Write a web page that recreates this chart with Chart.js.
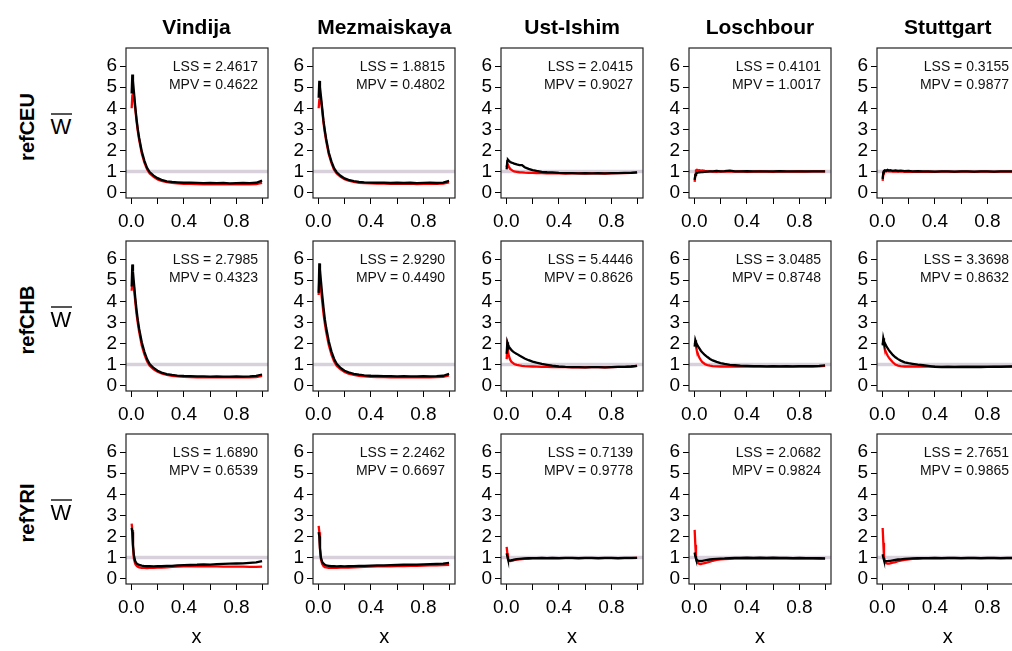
<!DOCTYPE html>
<html>
<head>
<meta charset="utf-8">
<script src="https://cdn.jsdelivr.net/npm/chart.js@4.4.1/dist/chart.umd.min.js"></script>
<style>
  body { margin: 0; width: 1012px; height: 651px; overflow: hidden; background: #fff; position: relative;
         font-family: "Liberation Sans", Arial, sans-serif; color: #000; }
  canvas { position: absolute; }
  .lbl { position: absolute; line-height: 1; white-space: nowrap; transform: translate(-50%, -50%); }
  .col { font-size: 21px; font-weight: bold; }
  .row { font-size: 20px; font-weight: bold; transform: translate(-50%, -50%) rotate(-90deg); }
  .wlab { font-size: 22px; }
  .bar { position: absolute; height: 1.5px; background: #555; }
  .xlab { font-size: 20px; }
</style>
</head>
<body>
<script>
// column / row names
const samples = ["Vindija", "Mezmaiskaya", "Ust-Ishim", "Loschbour", "Stuttgart"];
const refs = ["refCEU", "refCHB", "refYRI"];

// shared x positions of the curves (denser near 0)
const xGrid = [0.003, 0.008, 0.013, 0.02, 0.03, 0.04, 0.05, 0.06, 0.08, 0.10,
               0.12, 0.14, 0.17, 0.20, 0.23, 0.27, 0.31, 0.35, 0.40, 0.45,
               0.50, 0.55, 0.60, 0.65, 0.70, 0.75, 0.80, 0.85, 0.90, 0.95, 0.995];
const xTicks = [0, 0.2, 0.4, 0.6, 0.8, 1.0];
const xTickLabels = ["0.0", "", "0.4", "", "0.8", ""];
const yTicks = [0, 1, 2, 3, 4, 5, 6];

// refCEU
const blackCEU = [
  [4.7, 5.6, 5.3, 4.8, 4.1, 3.5, 3.0, 2.6, 1.95, 1.5, 1.17, 0.97, 0.8, 0.68, 0.6, 0.53, 0.5, 0.48, 0.46, 0.46, 0.45, 0.44, 0.45, 0.44, 0.45, 0.43, 0.44, 0.45, 0.44, 0.46, 0.56],
  [4.5, 5.3, 5.0, 4.6, 4.0, 3.4, 2.95, 2.55, 1.9, 1.48, 1.15, 0.96, 0.79, 0.67, 0.6, 0.54, 0.5, 0.48, 0.47, 0.46, 0.46, 0.45, 0.46, 0.45, 0.46, 0.44, 0.45, 0.46, 0.45, 0.47, 0.55],
  [1.1, 1.5, 1.55, 1.5, 1.45, 1.42, 1.4, 1.37, 1.33, 1.3, 1.3, 1.2, 1.12, 1.06, 1.02, 0.98, 0.96, 0.95, 0.93, 0.92, 0.92, 0.91, 0.92, 0.91, 0.92, 0.91, 0.92, 0.92, 0.93, 0.93, 0.95],
  [0.6, 0.82, 0.88, 0.92, 0.95, 0.96, 0.97, 0.97, 0.98, 0.99, 1.0, 1.0, 1.02, 1.0, 1.01, 1.04, 1.0, 1.0, 1.01, 1.0, 1.0, 1.0, 1.0, 1.01, 1.0, 1.0, 1.0, 1.0, 1.0, 1.0, 1.0],
  [0.65, 0.95, 1.02, 1.05, 1.03, 1.07, 1.04, 1.06, 1.03, 1.05, 1.02, 1.04, 1.01, 1.02, 1.0, 1.01, 1.0, 1.0, 0.99, 1.0, 1.0, 0.99, 1.0, 1.0, 0.99, 1.0, 1.0, 0.99, 1.0, 1.0, 1.0]
];
const redCEU = [
  [4.0, 4.6, 4.8, 4.6, 4.0, 3.4, 2.9, 2.5, 1.85, 1.42, 1.1, 0.9, 0.74, 0.62, 0.55, 0.49, 0.45, 0.43, 0.41, 0.41, 0.4, 0.39, 0.4, 0.39, 0.4, 0.38, 0.39, 0.4, 0.39, 0.4, 0.46],
  [4.0, 4.4, 4.6, 4.4, 3.9, 3.3, 2.85, 2.45, 1.82, 1.4, 1.08, 0.9, 0.74, 0.63, 0.56, 0.5, 0.46, 0.44, 0.43, 0.42, 0.42, 0.41, 0.42, 0.41, 0.42, 0.4, 0.41, 0.42, 0.41, 0.42, 0.48],
  [1.2, 1.36, 1.3, 1.22, 1.12, 1.07, 1.03, 1.0, 0.98, 0.96, 0.95, 0.94, 0.93, 0.93, 0.92, 0.92, 0.91, 0.91, 0.91, 0.9, 0.91, 0.91, 0.9, 0.91, 0.91, 0.9, 0.91, 0.92, 0.92, 0.93, 0.95],
  [0.5, 0.85, 1.05, 1.08, 1.05, 1.06, 1.03, 1.05, 1.02, 1.0, 1.0, 0.99, 0.98, 1.0, 0.99, 1.0, 0.99, 1.0, 0.98, 0.99, 1.0, 0.99, 0.98, 1.0, 0.99, 0.99, 1.0, 0.99, 1.0, 1.0, 1.0],
  [0.55, 0.9, 1.0, 1.03, 1.0, 1.02, 1.0, 1.01, 0.99, 1.0, 0.99, 1.0, 0.98, 0.99, 0.98, 0.99, 0.98, 0.99, 0.98, 0.99, 0.99, 0.98, 0.99, 0.99, 0.98, 0.99, 0.99, 0.98, 0.99, 0.99, 0.99]
];
const lssCEU = [2.4617, 1.8815, 2.0415, 0.4101, 0.3155];
const mpvCEU = [0.4622, 0.4802, 0.9027, 1.0017, 0.9877];

// refCHB
const blackCHB = [
  [4.7, 5.75, 5.4, 4.9, 4.2, 3.6, 3.1, 2.7, 2.05, 1.6, 1.25, 1.02, 0.83, 0.7, 0.61, 0.54, 0.5, 0.47, 0.45, 0.44, 0.43, 0.43, 0.42, 0.43, 0.42, 0.42, 0.43, 0.42, 0.43, 0.45, 0.52],
  [4.4, 5.8, 5.5, 5.0, 4.3, 3.7, 3.15, 2.75, 2.1, 1.62, 1.27, 1.03, 0.83, 0.7, 0.62, 0.55, 0.51, 0.48, 0.46, 0.45, 0.44, 0.44, 0.43, 0.44, 0.43, 0.43, 0.44, 0.43, 0.44, 0.46, 0.55],
  [1.5, 2.05, 1.95, 1.85, 1.75, 1.68, 1.62, 1.57, 1.5, 1.42, 1.35, 1.28, 1.2, 1.13, 1.08, 1.02, 0.98, 0.94, 0.9, 0.88, 0.87, 0.87, 0.86, 0.87, 0.87, 0.86, 0.87, 0.88, 0.88, 0.9, 0.93],
  [1.85, 2.15, 2.05, 1.95, 1.85, 1.75, 1.65, 1.58, 1.45, 1.35, 1.26, 1.19, 1.12, 1.06, 1.02, 0.98, 0.96, 0.94, 0.93, 0.92, 0.92, 0.91, 0.92, 0.91, 0.92, 0.91, 0.92, 0.92, 0.92, 0.93, 0.95],
  [1.9, 2.24, 2.1, 2.0, 1.88, 1.78, 1.68, 1.6, 1.45, 1.34, 1.25, 1.18, 1.1, 1.06, 1.03, 0.99, 0.96, 0.93, 0.88, 0.87, 0.87, 0.87, 0.87, 0.88, 0.87, 0.87, 0.88, 0.88, 0.88, 0.89, 0.9]
];
const redCHB = [
  [4.5, 4.9, 5.0, 4.7, 4.0, 3.4, 2.95, 2.55, 1.9, 1.48, 1.15, 0.94, 0.77, 0.65, 0.57, 0.5, 0.46, 0.43, 0.41, 0.4, 0.39, 0.39, 0.38, 0.39, 0.38, 0.38, 0.39, 0.38, 0.39, 0.4, 0.46],
  [4.3, 5.1, 5.0, 4.6, 4.0, 3.4, 2.95, 2.55, 1.92, 1.48, 1.15, 0.94, 0.76, 0.64, 0.56, 0.5, 0.46, 0.43, 0.41, 0.4, 0.4, 0.39, 0.39, 0.4, 0.39, 0.39, 0.4, 0.39, 0.4, 0.41, 0.48],
  [1.25, 1.8, 1.6, 1.4, 1.22, 1.12, 1.07, 1.02, 0.98, 0.95, 0.93, 0.92, 0.91, 0.9, 0.89, 0.88, 0.88, 0.87, 0.87, 0.87, 0.86, 0.87, 0.86, 0.87, 0.87, 0.86, 0.87, 0.88, 0.88, 0.9, 0.93],
  [1.95, 2.0, 1.85, 1.65, 1.45, 1.3, 1.2, 1.12, 1.02, 0.97, 0.94, 0.92, 0.91, 0.9, 0.9, 0.89, 0.89, 0.9, 0.89, 0.9, 0.9, 0.89, 0.9, 0.9, 0.9, 0.89, 0.9, 0.9, 0.9, 0.91, 0.93],
  [1.95, 2.05, 1.9, 1.72, 1.55, 1.42, 1.32, 1.25, 1.1, 0.99, 0.94, 0.92, 0.9, 0.9, 0.9, 0.89, 0.9, 0.89, 0.9, 0.89, 0.9, 0.89, 0.9, 0.89, 0.9, 0.9, 0.89, 0.9, 0.9, 0.9, 0.91]
];
const lssCHB = [2.7985, 2.9290, 5.4446, 3.0485, 3.3698];
const mpvCHB = [0.4323, 0.4490, 0.8626, 0.8748, 0.8632];

// refYRI
const blackYRI = [
  [2.4, 2.2, 1.6, 1.1, 0.82, 0.72, 0.67, 0.64, 0.61, 0.59, 0.58, 0.58, 0.57, 0.58, 0.58, 0.6, 0.6, 0.62, 0.63, 0.64, 0.65, 0.67, 0.66, 0.68, 0.69, 0.7, 0.71, 0.72, 0.74, 0.76, 0.82],
  [2.2, 2.0, 1.45, 1.0, 0.78, 0.7, 0.65, 0.62, 0.6, 0.58, 0.58, 0.57, 0.58, 0.57, 0.58, 0.59, 0.6, 0.6, 0.61, 0.62, 0.62, 0.63, 0.64, 0.65, 0.65, 0.66, 0.67, 0.68, 0.69, 0.7, 0.74],
  [1.2, 1.05, 0.92, 0.86, 0.85, 0.87, 0.88, 0.9, 0.92, 0.93, 0.94, 0.95, 0.96, 0.97, 0.97, 0.98, 0.97, 0.98, 0.97, 0.98, 0.98, 0.97, 0.98, 0.98, 0.97, 0.98, 0.98, 0.97, 0.98, 0.98, 0.98],
  [1.23, 1.05, 0.94, 0.88, 0.84, 0.83, 0.83, 0.84, 0.86, 0.88, 0.9, 0.92, 0.93, 0.94, 0.95, 0.97, 0.98, 0.98, 0.99, 0.98, 0.99, 0.98, 0.99, 0.98, 0.98, 0.97, 0.98, 0.97, 0.97, 0.96, 0.95],
  [1.15, 1.0, 0.88, 0.83, 0.82, 0.82, 0.83, 0.84, 0.86, 0.88, 0.9, 0.91, 0.93, 0.94, 0.95, 0.96, 0.97, 0.97, 0.98, 0.97, 0.98, 0.98, 0.97, 0.98, 0.98, 0.97, 0.98, 0.98, 0.97, 0.98, 0.98]
];
const redYRI = [
  [2.6, 2.3, 1.5, 0.95, 0.7, 0.6, 0.55, 0.52, 0.5, 0.5, 0.49, 0.5, 0.5, 0.51, 0.52, 0.53, 0.55, 0.56, 0.57, 0.57, 0.58, 0.58, 0.57, 0.57, 0.56, 0.56, 0.56, 0.56, 0.55, 0.55, 0.56],
  [2.5, 2.2, 1.4, 0.92, 0.68, 0.58, 0.54, 0.52, 0.5, 0.5, 0.5, 0.5, 0.51, 0.51, 0.52, 0.53, 0.54, 0.55, 0.56, 0.57, 0.57, 0.58, 0.59, 0.59, 0.6, 0.6, 0.61, 0.62, 0.62, 0.63, 0.65],
  [1.5, 1.2, 0.95, 0.84, 0.82, 0.83, 0.85, 0.87, 0.89, 0.91, 0.92, 0.93, 0.94, 0.95, 0.96, 0.96, 0.96, 0.97, 0.96, 0.97, 0.97, 0.96, 0.97, 0.97, 0.96, 0.97, 0.97, 0.96, 0.97, 0.97, 0.98],
  [2.31, 1.6, 1.0, 0.8, 0.72, 0.69, 0.68, 0.7, 0.73, 0.76, 0.8, 0.84, 0.88, 0.91, 0.92, 0.93, 0.94, 0.94, 0.95, 0.94, 0.95, 0.94, 0.95, 0.94, 0.94, 0.95, 0.94, 0.94, 0.94, 0.94, 0.94],
  [2.4, 1.7, 1.0, 0.8, 0.72, 0.7, 0.7, 0.72, 0.75, 0.78, 0.82, 0.85, 0.88, 0.91, 0.93, 0.94, 0.95, 0.95, 0.96, 0.95, 0.96, 0.96, 0.95, 0.96, 0.96, 0.95, 0.96, 0.96, 0.95, 0.96, 0.96]
];
const lssYRI = [1.6890, 2.2462, 0.7139, 2.0682, 2.7651];
const mpvYRI = [0.6539, 0.6697, 0.9778, 0.9824, 0.9865];

const rows = [
  { black: blackCEU, red: redCEU, lss: lssCEU, mpv: mpvCEU },
  { black: blackCHB, red: redCHB, lss: lssCHB, mpv: mpvCHB },
  { black: blackYRI, red: redYRI, lss: lssYRI, mpv: mpvYRI }
];

// layout of the plot boxes (page pixels)
const BOX_W = 142, BOX_H = 150;
const boxLeft = samples.map((s, i) => 125.5 + 187.8 * i);
const boxTop = [48, 241, 434];
const PAD_L = 50, PAD_T = 20, PAD_R = 14, PAD_B = 40;
const FONT = '"Liberation Sans", Arial, sans-serif';

function addLabel(text, cls, x, y) {
  const d = document.createElement("div");
  d.className = "lbl " + cls;
  d.textContent = text;
  d.style.left = x + "px";
  d.style.top = y + "px";
  document.body.appendChild(d);
}

// box, reference line at 1 and the LSS/MPV text
function panelPlugin(lss, mpv) {
  return {
    id: "panelDeco",
    beforeDatasetsDraw(chart) {
      const { ctx, chartArea: a, scales } = chart;
      const y1 = scales.y.getPixelForValue(1);
      ctx.save();
      ctx.strokeStyle = "#d8d1dc";
      ctx.lineWidth = 3.5;
      ctx.beginPath();
      ctx.moveTo(a.left, y1);
      ctx.lineTo(a.right, y1);
      ctx.stroke();
      ctx.restore();
    },
    afterDraw(chart) {
      const { ctx, chartArea: a } = chart;
      ctx.save();
      ctx.strokeStyle = "#222";
      ctx.lineWidth = 1.2;
      ctx.strokeRect(a.left, a.top, a.right - a.left, a.bottom - a.top);
      ctx.fillStyle = "#111";
      ctx.font = "14px " + FONT;
      ctx.textAlign = "right";
      ctx.textBaseline = "middle";
      ctx.fillText("LSS = " + lss.toFixed(4), a.right - 10, a.top + 19);
      ctx.fillText("MPV = " + mpv.toFixed(4), a.right - 10, a.top + 37);
      ctx.restore();
    }
  };
}

function makePanel(r, c) {
  const row = rows[r];
  const cv = document.createElement("canvas");
  const w = PAD_L + BOX_W + PAD_R, h = PAD_T + BOX_H + PAD_B;
  cv.width = w; cv.height = h;
  cv.style.width = w + "px"; cv.style.height = h + "px";
  document.body.appendChild(cv);

  const pts = arr => xGrid.map((x, i) => ({ x: x, y: arr[i] }));
  const tickFont = { family: FONT, size: 19 };

  const chart = new Chart(cv, {
    type: "line",
    data: {
      datasets: [
        { data: pts(row.red[c]), borderColor: "#ff0000", borderWidth: 2.3, order: 2 },
        { data: pts(row.black[c]), borderColor: "#000000", borderWidth: 2.3, order: 1 }
      ]
    },
    options: {
      responsive: false,
      animation: false,
      events: [],
      elements: { point: { radius: 0 }, line: { tension: 0 } },
      layout: { padding: { left: 0, top: PAD_T, right: PAD_R, bottom: 0 } },
      plugins: { legend: { display: false }, tooltip: { enabled: false } },
      scales: {
        x: {
          type: "linear", min: -0.04, max: 1.04,
          afterBuildTicks: s => { s.ticks = xTicks.map(v => ({ value: v })); },
          afterFit: s => { s.height = PAD_B; },
          ticks: { autoSkip: false, maxRotation: 0, minRotation: 0, padding: 6, color: "#000",
                   font: tickFont, callback: (v, i) => xTickLabels[i] },
          grid: { display: true, drawOnChartArea: false, drawTicks: true, tickLength: 6, color: "#000" },
          border: { display: false }
        },
        y: {
          type: "linear", min: -0.264, max: 6.864,
          afterBuildTicks: s => { s.ticks = yTicks.map(v => ({ value: v })); },
          afterFit: s => { s.width = PAD_L; },
          ticks: { autoSkip: false, padding: 3, color: "#000", font: tickFont, callback: v => String(v) },
          grid: { display: true, drawOnChartArea: false, drawTicks: true, tickLength: 6, color: "#000" },
          border: { display: false }
        }
      }
    },
    plugins: [panelPlugin(row.lss[c], row.mpv[c])]
  });

  // place the canvas so the chart area lands on the box position
  const a = chart.chartArea;
  cv.style.left = Math.round(boxLeft[c] - a.left) + "px";
  cv.style.top = Math.round(boxTop[r] - a.top) + "px";
}

for (let r = 0; r < refs.length; r++) {
  for (let c = 0; c < samples.length; c++) makePanel(r, c);
}

// titles and axis labels
samples.forEach((s, c) => {
  const cx = boxLeft[c] + BOX_W / 2;
  addLabel(s, "col", cx, 26);
  addLabel("x", "xlab", cx, 636);
});
refs.forEach((name, r) => {
  addLabel(name, "row", 27, boxTop[r] + 79);
  addLabel("W", "wlab", 61, boxTop[r] + 79);
  const bar = document.createElement("div");
  bar.className = "bar";
  bar.style.left = "51px";
  bar.style.width = "21px";
  bar.style.top = (boxTop[r] + 65) + "px";
  document.body.appendChild(bar);
});
</script>
</body>
</html>
